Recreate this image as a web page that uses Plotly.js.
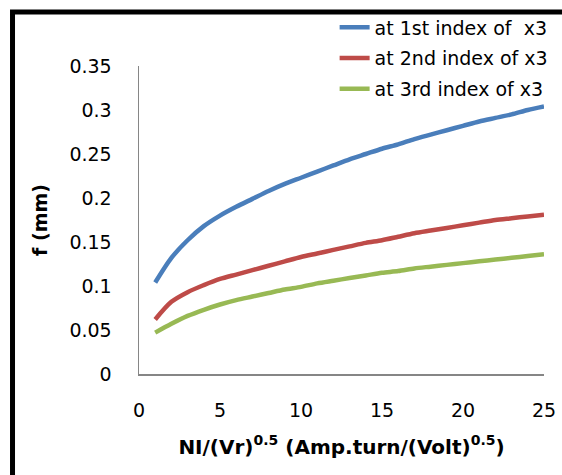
<!DOCTYPE html>
<html>
<head>
<meta charset="utf-8">
<script src="https://cdn.plot.ly/plotly-3.0.1.min.js"></script>
<style>
html, body { margin: 0; padding: 0; background: #ffffff; }
#chart { width: 562px; height: 475px; }
</style>
</head>
<body>
<div id="chart"></div>
<script>
// Data
const xValues = [1, 2, 3, 4, 5, 6, 7, 8, 9, 10, 11, 12, 13, 14, 15, 16, 17, 18, 19, 20, 21, 22, 23, 24, 25];
const series1Name = "at 1st index of  x3";
const series2Name = "at 2nd index of x3";
const series3Name = "at 3rd index of x3";
const series1 = [0.104, 0.132, 0.152, 0.168, 0.180, 0.190, 0.199, 0.208, 0.216, 0.223, 0.230, 0.237, 0.244, 0.250, 0.256, 0.261, 0.267, 0.272, 0.277, 0.282, 0.287, 0.291, 0.295, 0.300, 0.304];
const series2 = [0.062, 0.082, 0.093, 0.101, 0.108, 0.113, 0.118, 0.123, 0.128, 0.133, 0.137, 0.141, 0.145, 0.149, 0.152, 0.156, 0.160, 0.163, 0.166, 0.169, 0.172, 0.175, 0.177, 0.179, 0.181];
const series3 = [0.047, 0.057, 0.066, 0.073, 0.079, 0.084, 0.088, 0.092, 0.096, 0.099, 0.103, 0.106, 0.109, 0.112, 0.115, 0.117, 0.120, 0.122, 0.124, 0.126, 0.128, 0.130, 0.132, 0.134, 0.136];
const xTickVals = [0, 5, 10, 15, 20, 25];
const xTickText = ["0", "5", "10", "15", "20", "25"];
const yTickVals = [0, 0.05, 0.1, 0.15, 0.2, 0.25, 0.3, 0.35];
const yTickText = ["0", "0.05", "0.1", "0.15", "0.2", "0.25", "0.3", "0.35"];
const xTitle = "NI/(Vr)<sup>0.5</sup> (Amp.turn/(Volt)<sup>0.5</sup>)";
const yTitle = "f (mm)";

const FONT = "DejaVu Sans";
const colors = ["#4A7EBB", "#BE4B48", "#98B954"];

function mk(y, name, color, grp) {
  return {
    x: xValues, y: y, name: name, type: "scatter", mode: "lines",
    legendgroup: grp,
    line: { color: color, width: 4.5, shape: "spline", smoothing: 0.8 }
  };
}

const data = [
  mk(series1, series1Name, colors[0], "g1"),
  mk(series2, series2Name, colors[1], "g2"),
  mk(series3, series3Name, colors[2], "g3")
];

const layout = {
  width: 562, height: 475,
  margin: { l: 139, r: 18, t: 66, b: 101, pad: 0, autoexpand: false },
  paper_bgcolor: "#ffffff", plot_bgcolor: "#ffffff",
  font: { family: FONT, size: 19, color: "#000000" },
  showlegend: true,
  legend: {
    x: 0.483, xanchor: "left", y: 1.187, yanchor: "top",
    bgcolor: "rgba(0,0,0,0)", borderwidth: 0,
    font: { family: FONT, size: 19, color: "#000000" },
    tracegroupgap: 3, traceorder: "grouped"
  },
  xaxis: {
    range: [0, 25], showgrid: false, zeroline: false,
    showline: true, linecolor: "#868686", linewidth: 1.5,
    ticks: "", tickvals: xTickVals, ticktext: xTickText,
    ticklabelstandoff: 19,
    tickfont: { family: FONT, size: 19, color: "#000000" },
    title: { text: xTitle, font: { family: FONT, size: 20, color: "#000000", weight: "bold" }, standoff: 19 }
  },
  yaxis: {
    range: [0, 0.35], showgrid: false, zeroline: false,
    showline: true, linecolor: "#868686", linewidth: 1.5,
    ticks: "", tickvals: yTickVals, ticktext: yTickText,
    ticklabelstandoff: 22,
    tickfont: { family: FONT, size: 19, color: "#000000" },
    title: { text: yTitle, font: { family: FONT, size: 19, color: "#000000", weight: "bold" }, standoff: 16 }
  },
  shapes: [{
    type: "rect", xref: "paper", yref: "paper",
    x0: -0.3123, x1: 1.3, y0: -0.5, y1: 1.1753,
    line: { color: "#000000", width: 5 }, fillcolor: "rgba(0,0,0,0)", layer: "above"
  }]
};

Plotly.newPlot("chart", data, layout, { displayModeBar: false, staticPlot: true });
</script>
</body>
</html>
